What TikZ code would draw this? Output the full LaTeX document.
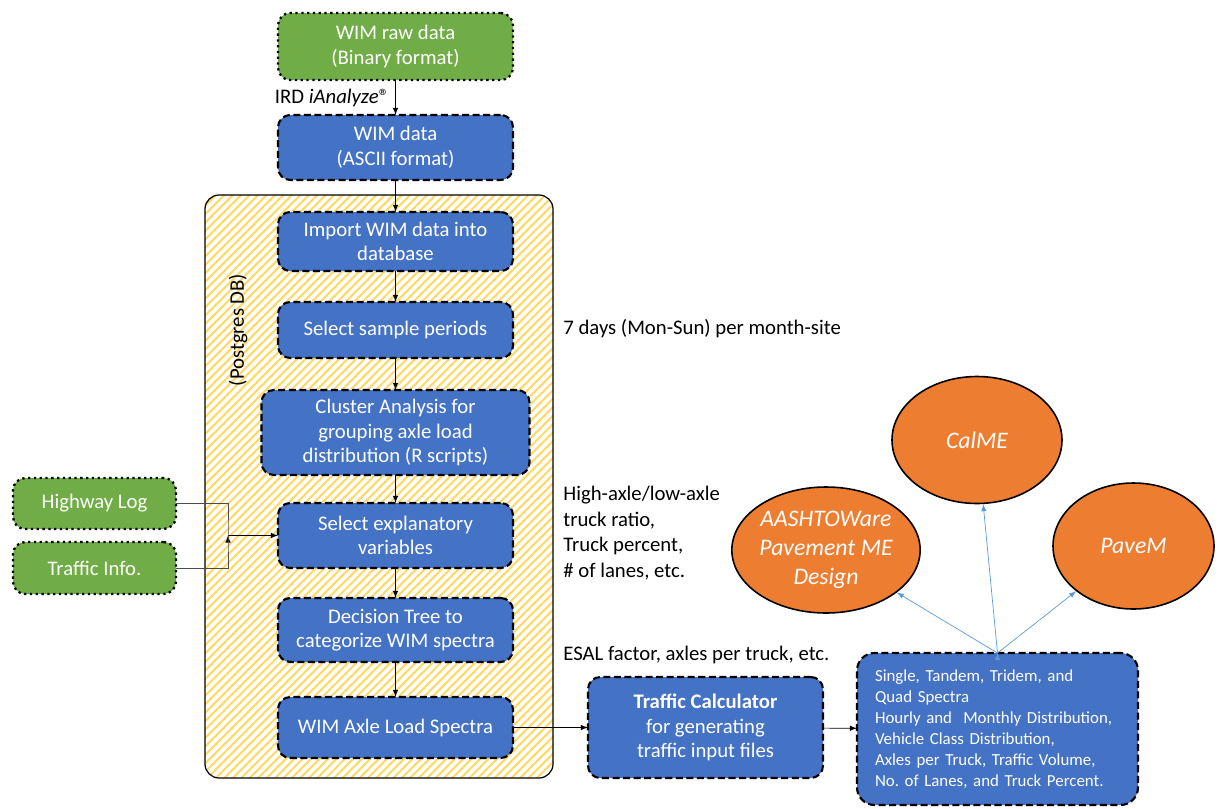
\documentclass[tikz,border=0pt]{standalone}
\usepackage{fontspec}
\setmainfont{Carlito}
\usepackage{xcolor}
\usepackage{tikz}
\usetikzlibrary{positioning,shapes.geometric,patterns.meta}
\definecolor{wimgreen}{HTML}{70AD47}
\definecolor{wimblue}{HTML}{4472C4}
\definecolor{wimorange}{HTML}{ED7D31}
\definecolor{wimyellow}{HTML}{FFD966}
\definecolor{wimsky}{HTML}{5B9BD5}
\tikzset{green node/.style={rectangle,rounded corners=7pt,fill=wimgreen,draw=black,line width=1.3pt,dotted,outer sep=0pt,text=white,align=center,minimum width=3.26cm,font=\fontsize{11.8}{14}\selectfont},
blue node/.style={rectangle,rounded corners=7pt,fill=wimblue,draw=black,line width=1.2pt,dash pattern=on 4pt off 2pt,outer sep=0pt,text=white,align=center,minimum width=4.7cm,inner sep=2pt,font=\fontsize{11.8}{14}\selectfont},
orange node/.style={ellipse,fill=wimorange,draw=black,line width=0.9pt,text=white,align=center,inner sep=0pt,font=\fontsize{13.5}{16.5}\selectfont\itshape},
note/.style={anchor=west,align=left,inner sep=0pt,font=\fontsize{11.8}{14.6}\selectfont},}

\begin{document}
\begin{tikzpicture}
    \useasboundingbox (0,0) rectangle (24.42,-16.16);
    % database frame
    \node[draw=black,rounded corners=8pt,line width=0.7pt,pattern={Lines[angle=45,distance=3.4pt,line width=1.2pt]},pattern color=wimyellow,minimum width=6.96cm,minimum height=11.66cm] (db) at (7.58,-9.73) {};
    \node[rotate=90,font=\fontsize{11.8}{14}\selectfont] (pg) at (4.76,-6.6) {(Postgres DB)};

    % main column
    \node[green node,minimum width=4.7cm,minimum height=1.34cm] (1) at (7.91,-0.93) {WIM raw data\\(Binary format)};
    \node[blue node,minimum height=1.3cm] (2) [below = .7cm of 1] {WIM data\\(ASCII format)};
    \node[blue node,minimum height=1.18cm] (3) [below = .64cm of 2] {Import WIM data into\\database};
    \node[blue node,minimum height=1.12cm] (4) [below = .62cm of 3] {Select sample periods};
    \node[blue node,minimum width=5.36cm,minimum height=1.7cm] (5) [below = .64cm of 4] {Cluster Analysis for\\grouping axle load\\distribution (R scripts)};
    \node[blue node,minimum height=1.3cm] (6) [below = .56cm of 5] {Select explanatory\\variables};
    \node[blue node,minimum height=1.28cm] (7) [below = .6cm of 6] {Decision Tree to\\categorize WIM spectra};
    \node[blue node,minimum height=1.22cm] (8) [below = .7cm of 7] {WIM Axle Load Spectra};

    % inputs on the left
    \node[green node,minimum height=1.02cm] (9) at (1.89,-10.07) {Highway Log};
    \node[green node,minimum height=1.04cm] (10) at (1.89,-11.36) {Traffic Info.};
    \coordinate[left = 1cm of 6.west] (jn);

    % outputs
    \node[blue node,minimum height=2.02cm] (11) [right = 1.5cm of 8] {\textbf{Traffic Calculator}\\for generating\\traffic input files};
    \node[blue node,rounded corners=10pt,minimum width=5.62cm,minimum height=3.04cm,align=left,text width=4.9cm,font=\fontsize{9.6}{12}\selectfont] (12) at (19.95,-14.58) {Single, Tandem, Tridem, and\\Quad Spectra\\Hourly and~ Monthly Distribution,\\Vehicle Class Distribution,\\Axles per Truck, Traffic Volume,\\No.\ of Lanes, and Truck Percent.};
    \node[orange node,minimum width=3.32cm,minimum height=2.52cm] (13) at (16.52,-11.0) {AASHTOWare\\Pavement ME\\Design};
    \node[orange node,minimum width=3.4cm,minimum height=2.54cm] (14) at (19.54,-8.8) {CalME};
    \node[orange node,minimum width=3.22cm,minimum height=2.52cm] (15) at (22.67,-10.92) {PaveM};

    % notes
    \node[note] (n1) at (11.26,-6.58) {7 days (Mon-Sun) per month-site};
    \node[note] (n2) at (11.26,-10.66) {High-axle/low-axle\\truck ratio,\\Truck percent,\\\# of lanes, etc.};
    \node[note] (n3) at (11.26,-13.1) {ESAL factor, axles per truck, etc.};

    \path[draw,-latex,thin]
    (1) edge node[left,font=\fontsize{11.8}{14}\selectfont] {IRD \textit{iAnalyze}®} (2)
    (2) edge (3)
    (3) edge (4)
    (4) edge (5)
    (5) edge (6)
    (6) edge (7)
    (7) edge (8)
    (8) edge (11)
    (11) edge (12)
    (jn) edge (6)
    ;
    \draw[black!70,thin] (9.east) -| (jn) |- (10.east);
    \path[draw,-latex,wimsky,thin]
    (12.north) edge (13)
    (12.north) edge (14)
    (12.north) edge (15)
    ;
\end{tikzpicture}
\end{document}
